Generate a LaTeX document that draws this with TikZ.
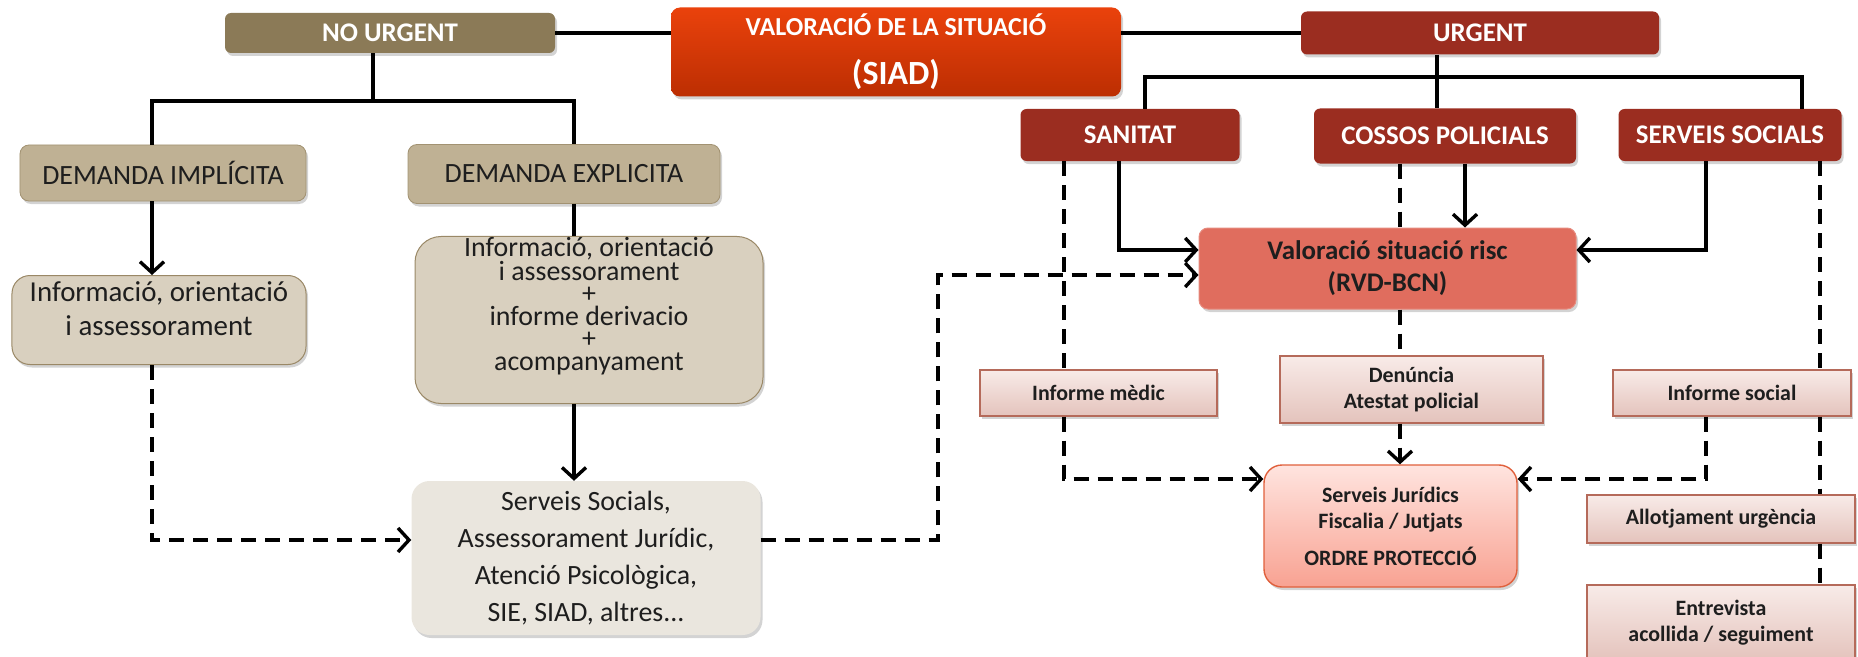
\documentclass[tikz,border=0pt]{standalone}
\usepackage{fontspec}
\setmainfont{Carlito}
\usetikzlibrary{arrows.meta,shadows}
\definecolor{nubrown}{HTML}{8B7A57}
\definecolor{demtan}{HTML}{BFB194}
\definecolor{demline}{HTML}{A29272}
\definecolor{infotan}{HTML}{D9D0BF}
\definecolor{infoline}{HTML}{9A8866}
\definecolor{servfill}{HTML}{EAE6DE}
\definecolor{sadtop}{HTML}{EA420C}
\definecolor{sadbot}{HTML}{BC2E02}
\definecolor{urgred}{HTML}{9B2D20}
\definecolor{riskfill}{HTML}{E06D5E}
\definecolor{inftop}{HTML}{F8EBE8}
\definecolor{infbot}{HTML}{E4C3BC}
\definecolor{infline}{HTML}{B56A5A}
\definecolor{jurtop}{HTML}{FFE4DF}
\definecolor{jurbot}{HTML}{F8A292}
\definecolor{jurline}{HTML}{E0603C}
\definecolor{txtdark}{HTML}{1E1E1E}
\newcommand\fhdr{\fontsize{27}{31}\selectfont\bfseries}
\newcommand\fdem{\fontsize{28}{32}\selectfont}
\newcommand\fsmall{\fontsize{22}{26}\selectfont\bfseries}
\begin{document}
\begin{tikzpicture}[x=1bp,y=-1bp,
  sz/.style 2 args={minimum width=#1bp, minimum height=#2bp},
  shade/.style={drop shadow={opacity=0.35, shadow xshift=2bp, shadow yshift=-3bp}},
  box/.style={rounded corners=9bp, align=center, inner sep=0pt, shade},
  hdr/.style={box, rounded corners=6bp, fill=urgred, text=white, font=\fhdr},
  dem/.style={box, fill=demtan, draw=demline, line width=0.8bp, text=txtdark, font=\fdem},
  info/.style={box, rounded corners=18bp, fill=infotan, draw=infoline, line width=1bp},
  rep/.style={box, rounded corners=0pt, top color=inftop, bottom color=infbot, draw=infline, line width=1.2bp, text=txtdark, font=\fsmall},
  plain/.style={inner sep=0pt, align=center, text=txtdark},
  conn/.style={line width=3.4bp, black},
  arr/.style={conn, -{Straight Barb[length=11bp,width=24bp]}},
  dsh/.style={conn, dash pattern=on 15bp off 9bp},
  dsharr/.style={dsh, -{Straight Barb[length=11bp,width=24bp]}}
]
\useasboundingbox (0,0) rectangle (1858,657);

% top row
\node[hdr, fill=nubrown, sz={330}{40}] (nourg) at (390,33) {NO URGENT};
\node[box, top color=sadtop, bottom color=sadbot, sz={450}{89}, text=white, font=\bfseries] (valsiad) at (896,52)
  {\fontsize{26}{30}\selectfont VALORACIÓ DE LA SITUACIÓ\\[23bp]\fontsize{34}{34}\selectfont (SIAD)};
\node[hdr, sz={358}{43}] (urg) at (1480,33) {URGENT};

% left side
\node[dem, sz={286}{56}] (demimp) at (163,173) {DEMANDA IMPLÍCITA};
\node[dem, sz={312}{59}] (demexp) at (564,174) {DEMANDA EXPLICITA};
\node[info, sz={294}{89}] (info1) at (159,320) {};
\node[plain, font=\fontsize{29}{34}\selectfont] (info1t) at (159,309) {Informació, orientació\\ i assessorament};
\node[info, rounded corners=26bp, sz={348}{167}] (info2) at (589,320) {};
\node[plain, font=\fontsize{28}{22.5}\selectfont] (info2t) at (589,306)
  {Informació, orientació\\ i assessorament\\ +\\ informe derivacio\\ +\\ acompanyament};
\node[box, rounded corners=18bp, fill=servfill, sz={349}{154}, text=txtdark, font=\fontsize{28}{37}\selectfont] (servbox) at (586,558)
  {Serveis Socials,\\ Assessorament Jurídic,\\ Atenció Psicològica,\\ SIE, SIAD, altres...};

% right side
\node[hdr, sz={219}{52}] (sanitat) at (1130,135) {SANITAT};
\node[hdr, sz={262}{55}] (cossos) at (1445,136) {COSSOS POLICIALS};
\node[hdr, sz={223}{52}] (servsoc) at (1730,135) {SERVEIS SOCIALS};
\node[box, fill=riskfill, draw=riskfill!80!white, line width=1bp, sz={377}{81}, text=txtdark, font=\fontsize{27}{32}\selectfont\bfseries] (valrisk) at (1387.5,268.5)
  {Valoració situació risc\\ (RVD-BCN)};
\node[rep, sz={237}{46}] (infmed) at (1098.5,393) {Informe mèdic};
\node[rep, sz={263}{67}] (denun) at (1411.5,389.5) {Denúncia\\ Atestat policial};
\node[rep, sz={238}{46}] (infsoc) at (1732,393) {Informe social};
\node[box, rounded corners=18bp, top color=jurtop, bottom color=jurbot, draw=jurline, line width=1.4bp, sz={253}{122}, text=txtdark, font=\fsmall] (serjur) at (1390.5,526)
  {Serveis Jurídics\\ Fiscalia / Jutjats\\[11bp] ORDRE PROTECCIÓ};
\node[rep, sz={268}{48}] (allot) at (1721,519) {Allotjament urgència};
\node[rep, sz={268}{76}] (entrev) at (1721,623) {Entrevista\\ acollida / seguiment};

% connectors: top
\draw[conn] (nourg.east) -- (valsiad.west |- nourg.east);
\draw[conn] (valsiad.east |- urg.west) -- (urg.west);
\coordinate (nuA) at (373,101);
\coordinate (nuL) at (152,101);
\coordinate (nuR) at (574,101);
\draw[conn] (nourg.south -| nuA) -- (nuA);
\draw[conn] (demimp.north -| nuL) -- (nuL) -- (nuR) -- (demexp.north -| nuR);
\coordinate (ugA) at (1437,77);
\coordinate (ugL) at (1145,77);
\coordinate (ugR) at (1802,77);
\draw[conn] (urg.south -| ugA) -- (cossos.north -| ugA);
\draw[conn] (sanitat.north -| ugL) -- (ugL) -- (ugR) -- (servsoc.north -| ugR);

% left flows
\draw[arr] (demimp.south -| nuL) -- (info1.north -| nuL);
\draw[conn] (demexp.south -| nuR) -- (info2.north -| nuR);
\draw[arr] (info2.south -| nuR) -- (servbox.north -| nuR);
\coordinate (dA) at (152,540);
\draw[dsharr] (info1.south -| nuL) -- (dA) -- (servbox.west |- dA);
\coordinate (dB) at (938,540);
\coordinate (dC) at (938,275);
\draw[dsharr] (servbox.east |- dB) -- (dB) -- (dC) -- (valrisk.west |- dC);

% right flows
\coordinate (sA) at (1119,250);
\draw[arr] (sanitat.south -| sA) -- (sA) -- (valrisk.west |- sA);
\coordinate (sD) at (1064,300);
\draw[dsh] (sanitat.south -| sD) -- (infmed.north -| sD);
\coordinate (sE) at (1064,479);
\draw[dsharr] (infmed.south -| sE) -- (sE) -- (serjur.west |- sE);
\coordinate (cA) at (1465,200);
\draw[arr] (cossos.south -| cA) -- (valrisk.north -| cA);
\coordinate (cD) at (1400,200);
\draw[dsh] (cossos.south -| cD) -- (valrisk.north -| cD);
\draw[dsh] (valrisk.south -| cD) -- (denun.north -| cD);
\draw[dsharr] (denun.south -| cD) -- (serjur.north -| cD);
\coordinate (ssA) at (1706,250);
\draw[arr] (servsoc.south -| ssA) -- (ssA) -- (valrisk.east |- ssA);
\coordinate (ssD) at (1820,300);
\draw[dsh] (servsoc.south -| ssD) -- (infsoc.north -| ssD);
\coordinate (ssE) at (1706,479);
\draw[dsharr] (infsoc.south -| ssE) -- (ssE) -- (serjur.east |- ssE);
\draw[dsh] (infsoc.south -| ssD) -- (allot.north -| ssD);
\draw[dsh] (allot.south -| ssD) -- (entrev.north -| ssD);
\end{tikzpicture}
\end{document}
